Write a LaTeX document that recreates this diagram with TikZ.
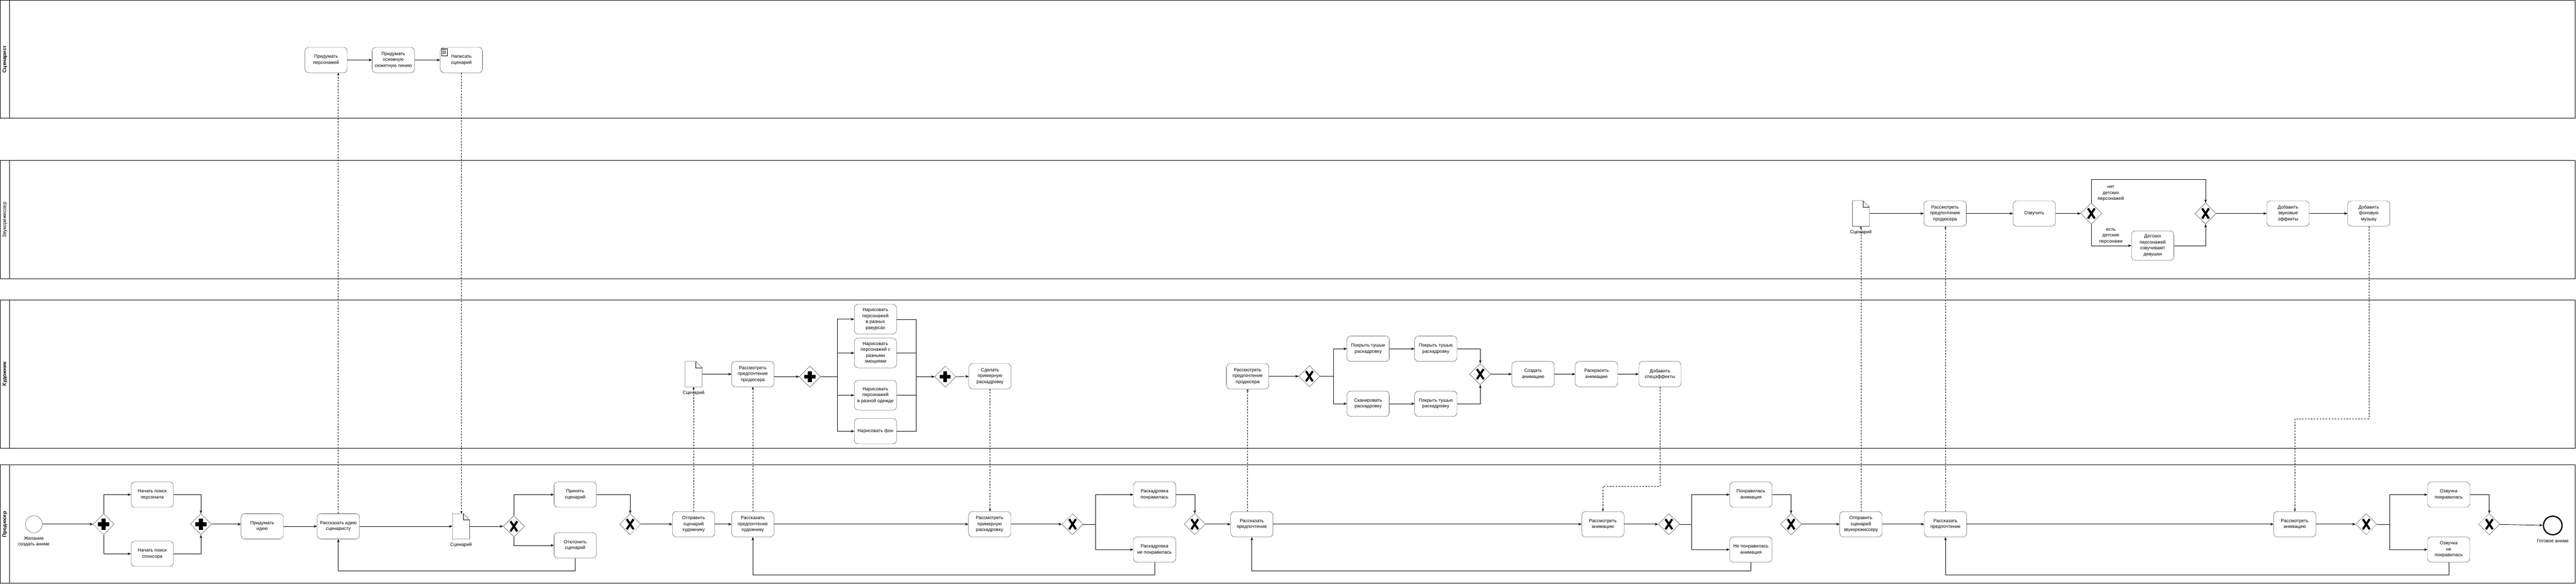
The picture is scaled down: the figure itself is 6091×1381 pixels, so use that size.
\documentclass[tikz,border=0pt]{standalone}
\usepackage{fontspec}
\setmainfont{Liberation Sans}
\usetikzlibrary{arrows.meta}
\usetikzlibrary{shapes.geometric}
\usetikzlibrary{calc}

\tikzset{
  task/.style={draw, rounded corners=9pt, minimum width=100pt, minimum height=60pt, align=center, inner sep=1pt, font=\fontsize{11}{14}\selectfont},
  tall/.style={task, minimum height=70pt},
  gw/.style={draw, diamond, minimum width=50pt, minimum height=50pt, inner sep=0pt},
  xgw/.style={gw, path picture={\draw[line width=5pt] (path picture bounding box.center) ++(-8pt,-12pt) -- ++(16pt,24pt) (path picture bounding box.center) ++(-8pt,12pt) -- ++(16pt,-24pt);}},
  pgw/.style={gw, path picture={\draw[line width=9pt] (path picture bounding box.center) ++(-13pt,0pt) -- ++(26pt,0pt) (path picture bounding box.center) ++(0pt,-13pt) -- ++(0pt,26pt);}},
  doc/.style={minimum width=40pt, minimum height=60pt, inner sep=0pt},
  lbl/.style={align=center, inner sep=1pt, font=\fontsize{11}{14}\selectfont},
  flow/.style={line width=1pt, -{Stealth[length=8pt,width=6pt]}},
  msg/.style={line width=0.7pt, dash pattern=on 4pt off 3pt, -{Stealth[length=6pt,width=5pt]}},
  lanename/.style={rotate=90, font=\bfseries\fontsize{12}{14}\selectfont},
}

\begin{document}
\begin{tikzpicture}[x=1pt, y=-1pt]
\useasboundingbox (0,0) rectangle (6091,1381);

% lanes
\draw[line width=1.2pt] (0,1) rectangle (6089,280) (23,1) -- (23,280);
\node[lanename] (lane1) at (11.5,140) {Сценарист};
\draw[line width=1.2pt] (0,380) rectangle (6089,660) (23,380) -- (23,660);
\node[lanename, font=\fontsize{12}{14}\selectfont] (lane2) at (11.5,520) {Звукорежиссер};
\draw[line width=1.2pt] (0,710) rectangle (6089,1060) (23,710) -- (23,1060);
\node[lanename] (lane3) at (11.5,885) {Художник};
\draw[line width=1.2pt] (0,1100) rectangle (6089,1380) (23,1100) -- (23,1380);
\node[lanename] (lane4) at (11.5,1240) {Продюсер};

\begin{scope}
    % Сценарист
    \node[task] (pp) at (771,142) {Придумать\\персонажей};
    \node[task] (psl) at (930,142) {Придумать\\основную\\сюжетную линию};
    \node[task] (ns) at (1091,142) {Написать\\сценарий};
    \draw[line width=0.6pt] ([shift={(3pt,-3pt)}]ns.north west) rectangle ++(14pt,-17pt);
    \foreach \k in {6,10,14} \draw[line width=0.6pt] ([shift={(6pt,-\k pt)}]ns.north west) -- ++(8pt,0pt);
    \draw[flow] (pp) -- (psl);
    \draw[flow] (psl) -- (ns);
\end{scope}

\begin{scope}
    % Звукорежиссер
    \node[doc] (doc3) at (4400,505) {};
    \node[lbl] (doc3t) at (4400,550) {Сценарий};
    \node[task] (rp2) at (4599,505) {Рассмотреть\\предпочтение\\продюсера};
    \node[task] (voice) at (4810,505) {Озвучить};
    \node[xgw] (xg11) at (4945,505) {};
    \node[tall] (kids) at (5090,581) {Детских\\персонажей\\озвучивают\\девушки};
    \node[xgw] (xg12) at (5215,505) {};
    \node[task] (sfx) at (5410,505) {Добавить\\звуковые\\эффекты};
    \node[task] (mus) at (5601,505) {Добавить\\фоновую\\музыку};
    \draw[flow] (doc3) -- (rp2);
    \draw[flow] (rp2) -- (voice);
    \draw[flow] (voice) -- (xg11);
    \draw[flow] (xg11.north) -- ++(0,-55) -| (xg12.north);
    \draw[flow] (xg11.south) |- (kids.west);
    \draw[flow] (kids.east) -| (xg12.south);
    \draw[flow] (xg12) -- (sfx);
    \draw[flow] (sfx) -- (mus);
    \node[lbl, fill=white] (no) at (4991,458) {нет\\детских\\персонажей};
    \node[lbl, fill=white] (yes) at (4991,558) {есть\\детские\\персонажи};
\end{scope}

\begin{scope}
    % Художник
    \node[doc] (doc2) at (1640,885) {};
    \node[lbl] (doc2t) at (1640,930) {Сценарий};
    \node[task] (rp3) at (1780,885) {Рассмотреть\\предпочтение\\продюсера};
    \node[pgw] (pg3) at (1915,891) {};
    \node[tall] (d1) at (2070,755) {Нарисовать\\персонажей\\в разных\\ракурсах};
    \node[tall] (d2) at (2070,835) {Нарисовать\\персонажей с\\разными\\эмоциями};
    \node[tall] (d3) at (2070,935) {Нарисовать\\персонажей\\в разной одежде};
    \node[task] (d4) at (2070,1020) {Нарисовать фон};
    \node[pgw] (pg4) at (2235,891) {};
    \node[task] (mk) at (2341,890) {Сделать\\примерную\\раскадровку};
    \coordinate (fork) at (1980,891);
    \coordinate (join) at (2166,891);
    \draw[flow] (doc2) -- (rp3);
    \draw[flow] (pg3.west -| rp3.east) -- (pg3.west);
    \draw (pg3.east) -- (fork);
    \draw[flow] (fork) |- (d1.west);
    \draw[flow] (fork) |- (d4.west);
    \draw[flow] (d2.west -| fork) -- (d2.west);
    \draw[flow] (d3.west -| fork) -- (d3.west);
    \draw (d1.east) -| (join) |- (d4.east);
    \draw (d2.east) -- (d2.east -| join);
    \draw (d3.east) -- (d3.east -| join);
    \draw[flow] (join) -- (pg4.west);
    \draw[flow] (pg4) -- (mk);

    \node[task] (rp3b) at (2950,890) {Рассмотреть\\предпочтение\\продюсера};
    \node[xgw] (xg9) at (3096,890) {};
    \node[task] (t1) at (3235,825) {Покрыть тушью\\раскадровку};
    \node[task] (t2) at (3395,825) {Покрыть тушью\\раскадровку};
    \node[task] (sc) at (3235,955) {Сканировать\\раскадровку};
    \node[task] (t3) at (3395,955) {Покрыть тушью\\раскадровку};
    \node[xgw] (xg10) at (3500,885) {};
    \node[task] (ca) at (3625,885) {Создать\\анимацию};
    \node[task] (col) at (3775,885) {Раскрасить\\анимацию};
    \node[task] (fx) at (3925,885) {Добавить\\спецэффекты};
    \coordinate (f9) at (3153,890);
    \draw[flow] (rp3b) -- (xg9);
    \draw (xg9.east) -- (f9);
    \draw[flow] (f9) |- (t1.west);
    \draw[flow] (f9) |- (sc.west);
    \draw[flow] (t1) -- (t2);
    \draw[flow] (sc) -- (t3);
    \draw[flow] (t2.east) -| (xg10.north);
    \draw[flow] (t3.east) -| (xg10.south);
    \draw[flow] (xg10) -- (ca);
    \draw[flow] (ca) -- (col);
    \draw[flow] (col) -- (fx);
\end{scope}

\begin{scope}
    % Продюсер
    \node[draw, circle, minimum size=40pt, inner sep=0pt] (start) at (80,1240) {};
    \node[lbl] (startt) at (80,1281) {Желание\\создать аниме};
    \node[pgw] (pg1) at (245,1240) {};
    \node[task] (sp) at (360,1170) {Начать поиск\\персонала};
    \node[task] (ss) at (360,1310) {Начать поиск\\спонсора};
    \node[pgw] (pg2) at (475,1240) {};
    \node[task] (idea) at (620,1245) {Придумать\\идею};
    \node[task] (ri) at (800,1245) {Рассказать идею\\сценаристу};
    \node[doc] (doc1) at (1090,1245) {};
    \node[lbl] (doc1t) at (1090,1289) {Сценарий};
    \node[xgw] (xg1) at (1215,1245) {};
    \node[task] (acc) at (1360,1170) {Принять\\сценарий};
    \node[task] (rej) at (1360,1290) {Отклонить\\сценарий};
    \node[xgw] (xg2) at (1490,1240) {};
    \node[task] (sa) at (1640,1240) {Отправить\\сценарий\\художнику};
    \node[task] (pa) at (1780,1240) {Рассказать\\предпочтение\\художнику};
    \node[task] (rr) at (2340,1240) {Рассмотреть\\примерную\\раскадровку};
    \node[xgw] (xg3) at (2536,1240) {};
    \node[task] (rok) at (2730,1170) {Раскадровка\\понравилась};
    \node[task] (rno) at (2730,1300) {Раскадровка\\не понравилась};
    \node[xgw] (xg4) at (2825,1240) {};
    \node[task] (pr) at (2960,1240) {Рассказать\\предпочтение};
    \node[task] (ra) at (3790,1240) {Рассмотреть\\анимацию};
    \node[xgw] (xg5) at (3946,1240) {};
    \node[task] (aok) at (4140,1170) {Понравилась\\анимация};
    \node[task] (ano) at (4140,1300) {Не понравилась\\анимация};
    \node[xgw] (xg6) at (4235,1240) {};
    \node[task] (ssnd) at (4400,1240) {Отправить\\сценарий\\звукорежиссеру};
    \node[task] (ps) at (4600,1240) {Рассказать\\предпочтение};
    \node[task] (ra2) at (5426,1240) {Рассмотреть\\анимацию};
    \node[xgw] (xg7) at (5595,1240) {};
    \node[task] (vok) at (5790,1170) {Озвучка\\понравилась};
    \node[task] (vno) at (5790,1300) {Озвучка\\не\\понравилась};
    \node[xgw] (xg8) at (5886,1240) {};
    \node[draw, circle, line width=3pt, minimum size=44pt, inner sep=0pt] (finish) at (6036,1243) {};
    \node[lbl] (finisht) at (6036,1280) {Готовое аниме};
    \coordinate (f3) at (2590,1240);
    \coordinate (f5) at (4000,1240);
    \coordinate (f7) at (5650,1240);

    \draw[flow] (start) -- (pg1);
    \draw[flow] (pg1.north) |- (sp.west);
    \draw[flow] (pg1.south) |- (ss.west);
    \draw[flow] (sp.east) -| (pg2.north);
    \draw[flow] (ss.east) -| (pg2.south);
    \draw[flow] (pg2.east) -- (pg2.east -| idea.west);
    \draw[flow] (idea) -- (ri);
    \draw[flow] (ri) -- (doc1);
    \draw[flow] (doc1) -- (xg1);
    \draw[flow] (xg1.north) |- (acc.west);
    \draw[flow] (xg1.south) |- (rej.west);
    \draw[flow] (acc.east) -| (xg2.north);
    \draw[flow] (rej.south) -- ++(0,30) -| (ri.south);
    \draw[flow] (xg2) -- (sa);
    \draw[flow] (sa) -- (pa);
    \draw[flow] (pa) -- (rr);
    \draw[flow] (rr) -- (xg3);
    \draw (xg3.east) -- (f3);
    \draw[flow] (f3) |- (rok.west);
    \draw[flow] (f3) |- (rno.west);
    \draw[flow] (rok.east) -| (xg4.north);
    \draw[flow] (rno.south) -- ++(0,30) -| (pa.south);
    \draw[flow] (xg4) -- (pr);
    \draw[flow] (pr) -- (ra);
    \draw[flow] (ra) -- (xg5);
    \draw (xg5.east) -- (f5);
    \draw[flow] (f5) |- (aok.west);
    \draw[flow] (f5) |- (ano.west);
    \draw[flow] (aok.east) -| (xg6.north);
    \draw[flow] (ano.south) -- ++(0,20) -| (pr.south);
    \draw[flow] (xg6) -- (ssnd);
    \draw[flow] (ssnd) -- (ps);
    \draw[flow] (ps) -- (ra2);
    \draw[flow] (ra2) -- (xg7);
    \draw (xg7.east) -- (f7);
    \draw[flow] (f7) |- (vok.west);
    \draw[flow] (f7) |- (vno.west);
    \draw[flow] (vok.east) -| (xg8.north);
    \draw[flow] (vno.south) -- ++(0,30) -| (ps.south);
    \draw[flow] (xg8) -- (finish);
\end{scope}

% documents
\foreach \d in {doc1,doc2,doc3}{
    \draw (\d.south west) -- (\d.north west) -- ([xshift=-15pt]\d.north east) -- ([yshift=-15pt]\d.north east) -- (\d.south east) -- cycle;
    \draw ([xshift=-15pt]\d.north east) -- ([xshift=-15pt,yshift=-15pt]\d.north east) -- ([yshift=-15pt]\d.north east);
}

% messages between lanes
\draw[msg] (ri.north) -- (ri.north |- pp.south);
\draw[msg] (ns.south) -- (ns.south |- doc1.north);
\draw[msg] (sa.north) -- (doc2.south);
\draw[msg] (pa.north) -- (rp3.south);
\draw[msg] (mk.south) -- (mk.south |- rr.north);
\draw[msg] (rp3b.south |- pr.north) -- (rp3b.south);
\draw[msg] (fx.south) -- ++(0,235) -| (ra.north);
\draw[msg] (ssnd.north) -- (doc3.south);
\draw[msg] (ps.north) -- (ps.north |- rp2.south);
\draw[msg] (mus.south) -- ++(0,455) -| (ra2.north);
\end{tikzpicture}
\end{document}
